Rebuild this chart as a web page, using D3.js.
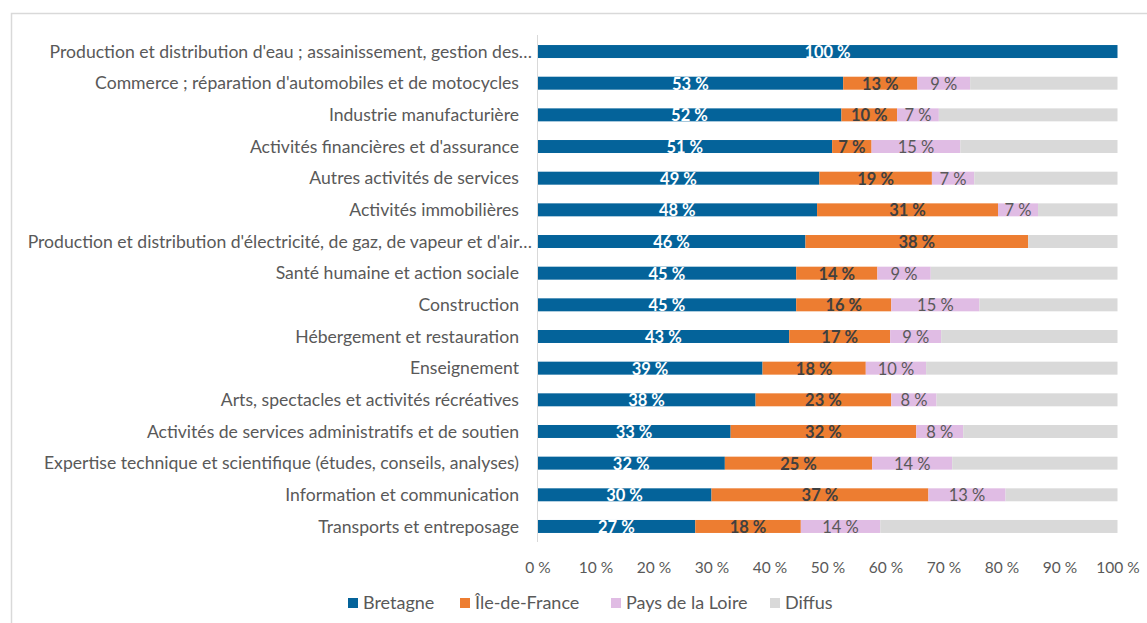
<!DOCTYPE html>
<html>
<head>
<meta charset="utf-8">
<script src="https://cdn.jsdelivr.net/npm/d3@7"></script>
<style>
  body { margin: 0; background: #fff; }
  svg { font-family: Lato, "Open Sans", sans-serif; }
</style>
</head>
<body>
<svg id="chart" width="1147" height="623"></svg>
<script>
const categories = [
    "Production et distribution d'eau ; assainissement, gestion des…",
    "Commerce ; réparation d'automobiles et de motocycles",
    "Industrie manufacturière",
    "Activités financières et d'assurance",
    "Autres activités de services",
    "Activités immobilières",
    "Production et distribution d'électricité, de gaz, de vapeur et d'air…",
    "Santé humaine et action sociale",
    "Construction",
    "Hébergement et restauration",
    "Enseignement",
    "Arts, spectacles et activités récréatives",
    "Activités de services administratifs et de soutien",
    "Expertise technique et scientifique (études, conseils, analyses)",
    "Information et communication",
    "Transports et entreposage"
];

const bretagne    = [100, 52.7, 52.4, 50.8, 48.6, 48.2, 46.2, 44.6, 44.6, 43.4, 38.8, 37.6, 33.3, 32.3, 30.0, 27.2];
const ileDeFrance = [0, 12.8, 9.6, 6.8, 19.4, 31.2, 38.4, 14.0, 16.4, 17.4, 17.8, 23.4, 32.0, 25.4, 37.4, 18.2];
const paysLoire   = [0, 9.1, 7.2, 15.3, 7.3, 6.9, 0, 9.2, 15.2, 8.8, 10.4, 7.8, 8.1, 13.8, 13.3, 13.7];

const seriesNames = ["Bretagne", "Île-de-France", "Pays de la Loire", "Diffus"];
const seriesColors = ["#04639A", "#ED7D31", "#E0BCE4", "#D9D9D9"];
const labelColors = ["#ffffff", "#404040", "#595959", null];
const labelWeights = ["bold", "bold", "normal", "normal"];
const xTicks = [0, 10, 20, 30, 40, 50, 60, 70, 80, 90, 100];

// remainder is "Diffus"
const rows = categories.map((c, i) => {
    const diffus = Math.max(0, 100 - bretagne[i] - ileDeFrance[i] - paysLoire[i]);
    return { cat: c, vals: [bretagne[i], ileDeFrance[i], paysLoire[i], diffus] };
});

const svg = d3.select("#chart");

// chart frame
svg.append("path")
    .attr("d", "M11.5,623 V13.5 H1147")
    .attr("fill", "none")
    .attr("stroke", "#D9D9D9")
    .attr("stroke-width", 1.5);

const x = d3.scaleLinear().domain([0, 100]).range([537.5, 1117.5]);
const y = d3.scaleBand().domain(categories).range([35.7, 542.3])
    .paddingInner(0.59).paddingOuter(0.295);

const stack = d3.stack().keys([0, 1, 2, 3]).value((d, k) => d.vals[k]);
const layers = stack(rows);

const g = svg.append("g");

layers.forEach((layer, k) => {
    g.selectAll(null)
        .data(layer)
        .enter().append("rect")
        .attr("x", d => x(d[0]))
        .attr("y", d => y(d.data.cat))
        .attr("width", d => x(d[1]) - x(d[0]))
        .attr("height", y.bandwidth())
        .attr("fill", seriesColors[k]);
});

// vertical axis line
svg.append("line")
    .attr("x1", x(0)).attr("x2", x(0))
    .attr("y1", 35).attr("y2", 542)
    .attr("stroke", "#D9D9D9");

// value labels
layers.forEach((layer, k) => {
    if (!labelColors[k]) return;
    g.selectAll(null)
        .data(layer.filter(d => d[1] - d[0] > 0))
        .enter().append("text")
        .attr("x", d => (x(d[0]) + x(d[1])) / 2)
        .attr("y", d => y(d.data.cat) + y.bandwidth() / 2 + 6.5)
        .attr("text-anchor", "middle")
        .attr("font-size", 16.5)
        .attr("font-weight", labelWeights[k])
        .attr("fill", labelColors[k])
        .text(d => Math.round(d[1] - d[0]) + " %");
});

// category labels
svg.append("g")
    .attr("transform", "translate(519,0)")
    .call(d3.axisLeft(y).tickSize(0).tickPadding(0))
    .call(a => a.select(".domain").remove())
    .selectAll("text")
    .attr("font-size", 17.6)
    .attr("font-family", "Lato, 'Open Sans', sans-serif")
    .attr("fill", "#595959")
    .attr("dx", d => d.endsWith("…") ? 13 : 0)
    .attr("dy", "0.35em");

// x axis
svg.append("g")
    .attr("transform", "translate(0,559)")
    .call(d3.axisBottom(x).tickValues(xTicks).tickSize(0).tickPadding(0).tickFormat(d => d + " %"))
    .call(a => a.select(".domain").remove())
    .selectAll("text")
    .attr("font-size", 15.5)
    .attr("font-family", "Lato, 'Open Sans', sans-serif")
    .attr("fill", "#595959")
    .attr("dy", "0.9em");

// legend
const legendX = [348, 460, 611, 770];
const legend = svg.append("g").attr("transform", "translate(0,603)");
seriesNames.forEach((name, i) => {
    const item = legend.append("g").attr("transform", `translate(${legendX[i]},0)`);
    item.append("rect")
        .attr("x", 0).attr("y", -5)
        .attr("width", 10).attr("height", 10)
        .attr("fill", seriesColors[i]);
    item.append("text")
        .attr("x", 15).attr("y", 0)
        .attr("dy", "0.35em")
        .attr("font-size", 18)
        .attr("fill", "#595959")
        .text(name);
});
</script>
</body>
</html>
